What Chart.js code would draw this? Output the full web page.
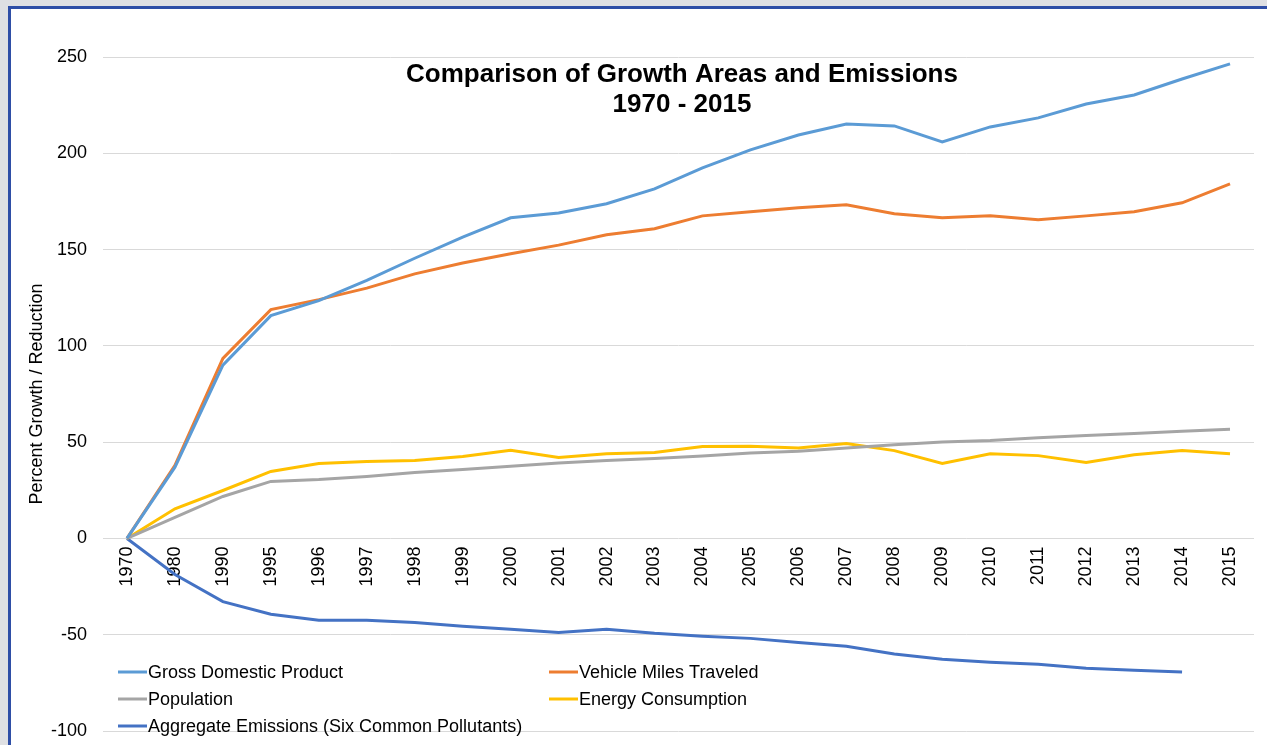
<!DOCTYPE html>
<html>
<head>
<meta charset="utf-8">
<script src="https://cdn.jsdelivr.net/npm/chart.js@4.4.1/dist/chart.umd.min.js"></script>
<style>
  html, body { margin: 0; padding: 0; background: #dfe0e3; overflow: hidden; }
  #frame { position: absolute; left: 8px; top: 6px; width: 1400px; height: 900px;
           border-left: 3px solid #2e4ea6; border-top: 3px solid #2e4ea6; background: #fff; }
  #chart { position: absolute; left: 0; top: 0; }
</style>
</head>
<body>
<div id="frame"></div>
<canvas id="chart" width="1267" height="745"></canvas>
<script>
// years along the x axis
var years = ['1970','1980','1990','1995','1996','1997','1998','1999','2000','2001','2002','2003',
             '2004','2005','2006','2007','2008','2009','2010','2011','2012','2013','2014','2015'];

// percent change since 1970
var gdp = [0, 37, 90, 115.7, 123.5, 134, 145.5, 156.5, 166.5, 169, 173.8, 181.5,
           192.4, 201.8, 209.5, 215.2, 214.2, 205.9, 213.7, 218.4, 225.6, 230.3, 238.6, 246.4];
var vmt = [0, 38, 93.5, 118.8, 124, 130, 137.4, 143, 147.8, 152.3, 157.7, 160.8,
           167.5, 169.6, 171.7, 173.3, 168.6, 166.5, 167.5, 165.5, 167.5, 169.6, 174.3, 184.1];
var population = [0, 10.9, 21.8, 29.6, 30.6, 32.2, 34.2, 35.8, 37.5, 39.2, 40.5, 41.5,
                  42.8, 44.3, 45.3, 47, 48.6, 50.1, 50.8, 52.3, 53.4, 54.5, 55.7, 56.7];
var energy = [0, 15.4, 24.9, 34.8, 38.9, 39.9, 40.5, 42.5, 45.8, 42, 44, 44.6,
              47.7, 47.9, 46.9, 49.3, 45.6, 38.9, 44, 43, 39.4, 43.5, 45.6, 44];
var emissions = [0, -18.7, -32.8, -39.4, -42.5, -42.5, -43.6, -45.6, -47.2, -48.8, -47.2, -49.3,
                 -50.8, -51.9, -54, -56, -60, -62.8, -64.3, -65.4, -67.4, -68.5, -69.3, null];

var yTicks = [-100, -50, 0, 50, 100, 150, 200, 250];

var FONT = "'Liberation Sans', Arial, sans-serif";

function ds(label, data, color) {
	return {
		label: label,
		data: data,
		borderColor: color,
		backgroundColor: color,
		borderWidth: 3,
		pointRadius: 0,
		tension: 0,
		fill: false
	};
}

// title drawn over the plot, like the original
var titlePlugin = {
	id: 'overTitle',
	afterDraw: function (chart) {
		var ctx = chart.ctx;
		ctx.save();
		ctx.fillStyle = '#000';
		ctx.font = 'bold 26px ' + FONT;
		ctx.textAlign = 'center';
		ctx.textBaseline = 'alphabetic';
		ctx.fillText('Comparison of Growth Areas and Emissions', 682, 82);
		ctx.fillText('1970 - 2015', 682, 112);
		ctx.restore();
	}
};

// legend inside the plot area, two columns
var legendPlugin = {
	id: 'innerLegend',
	afterDraw: function (chart) {
		var ctx = chart.ctx;
		var cols = [118, 549];
		var rows = [672, 699, 726];
		ctx.save();
		ctx.font = '18px ' + FONT;
		ctx.textBaseline = 'middle';
		ctx.textAlign = 'left';
		chart.data.datasets.forEach(function (d, i) {
			var x = cols[i % 2], y = rows[Math.floor(i / 2)];
			ctx.strokeStyle = d.borderColor;
			ctx.lineWidth = 3;
			ctx.beginPath();
			ctx.moveTo(x, y);
			ctx.lineTo(x + 29, y);
			ctx.stroke();
			ctx.fillStyle = '#000';
			ctx.fillText(d.label, x + 30, y + 1);
		});
		ctx.restore();
	}
};

var ctx = document.getElementById('chart');
var lineChart = new Chart(ctx, {
	type: 'line',
	data: {
		labels: years,
		datasets: [
			ds('Gross Domestic Product', gdp, '#5b9bd5'),
			ds('Vehicle Miles Traveled', vmt, '#ed7d31'),
			ds('Population', population, '#a5a5a5'),
			ds('Energy Consumption', energy, '#ffc000'),
			ds('Aggregate Emissions (Six Common Pollutants)', emissions, '#4472c4')
		]
	},
	options: {
		responsive: false,
		animation: false,
		spanGaps: false,
		layout: { padding: { top: 57, right: 13, bottom: 14, left: 0 } },
		plugins: {
			legend: { display: false },
			title: { display: false },
			tooltip: { enabled: false }
		},
		scales: {
			x: {
				position: { y: 0 },
				offset: true,
				afterFit: function (scale) {
					scale.paddingTop = 0; scale.paddingBottom = 0;
					scale.paddingLeft = 0; scale.paddingRight = 0;
				},
				grid: { display: false, drawTicks: false },
				border: { display: false },
				ticks: {
					autoSkip: false,
					minRotation: 90,
					maxRotation: 90,
					padding: 8,
					color: '#000',
					font: { family: FONT, size: 18 }
				}
			},
			y: {
				min: -100,
				max: 250,
				afterFit: function (scale) {
					scale.width = 103;
					scale.paddingTop = 0; scale.paddingBottom = 0;
				},
				afterBuildTicks: function (scale) {
					scale.ticks = yTicks.map(function (v) { return { value: v }; });
				},
				grid: { color: '#d9d9d9', lineWidth: 1, drawTicks: false },
				border: { display: false },
				ticks: {
					padding: 16,
					color: '#000',
					font: { family: FONT, size: 18 }
				},
				title: {
					display: true,
					text: 'Percent Growth / Reduction',
					color: '#000',
					padding: { top: 26, bottom: 0 },
					font: { family: FONT, size: 18 }
				}
			}
		}
	},
	plugins: [titlePlugin, legendPlugin]
});
</script>
</body>
</html>
